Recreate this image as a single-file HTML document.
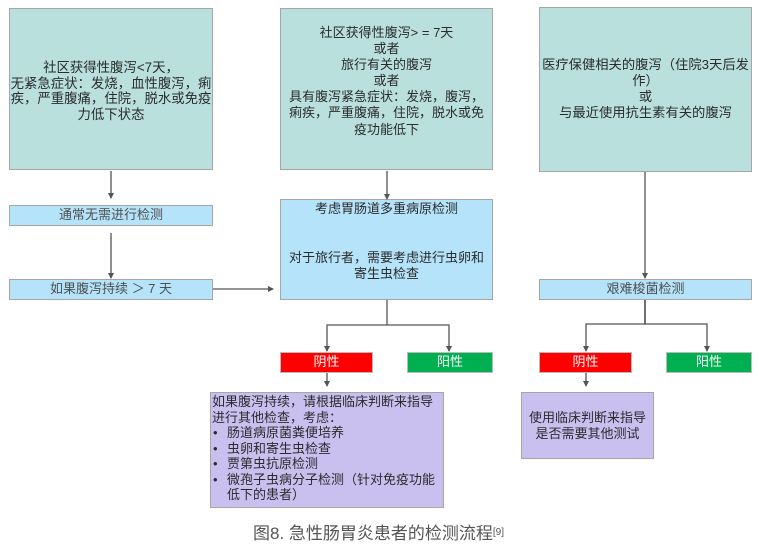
<!DOCTYPE html>
<html><head><meta charset="utf-8">
<style>
html,body{margin:0;padding:0;background:#fff;}
body{width:759px;height:553px;position:relative;overflow:hidden;font-family:"Liberation Sans","Noto Sans CJK SC",sans-serif;}
.b{position:absolute;box-sizing:border-box;border:1px solid #a6a6a6;}
.teal{background:#b9e0dd;}
.blue{background:#b4e3fa;}
.red{background:#ff0000;}
.green{background:#00b050;}
.pur{background:#cac0f0;}
.t{position:absolute;text-align:center;color:#2b2b2b;font-size:13px;white-space:nowrap;}
.s{position:absolute;text-align:center;color:#505050;font-size:13px;line-height:20px;white-space:nowrap;}
.w{position:absolute;text-align:center;color:#fff;font-size:13px;line-height:20px;}
svg{position:absolute;left:0;top:0;}
</style></head><body>

<!-- top boxes -->
<div class="b teal" style="left:9px;top:8px;width:204px;height:162px;"></div>
<div class="t" style="left:9px;width:204px;top:60px;line-height:15.7px;font-size:13.4px;">社区获得性腹泻&lt;7天，<br>无紧急症状：发烧，血性腹泻，痢<br>疾，严重腹痛，住院，脱水或免疫<br>力低下状态</div>

<div class="b teal" style="left:280px;top:8px;width:213px;height:162px;"></div>
<div class="t" style="left:280px;width:213px;top:25px;line-height:16.1px;">社区获得性腹泻&gt; = 7天<br>或者<br>旅行有关的腹泻<br>或者<br>具有腹泻紧急症状：发烧，腹泻，<br>痢疾，严重腹痛，住院，脱水或免<br>疫功能低下</div>

<div class="b teal" style="left:539px;top:7px;width:213px;height:165px;"></div>
<div class="t" style="left:539px;width:213px;top:57px;line-height:16px;font-size:13.3px;">医疗保健相关的腹泻（住院3天后发<br>作）<br>或<br>与最近使用抗生素有关的腹泻</div>

<!-- blue boxes -->
<div class="b blue" style="left:9px;top:205px;width:204px;height:21px;"></div>
<div class="s" style="left:9px;width:204px;top:205px;">通常无需进行检测</div>

<div class="b blue" style="left:9px;top:279px;width:204px;height:21px;"></div>
<div class="s" style="left:9px;width:204px;top:279px;">如果腹泻持续 ＞ 7 天</div>

<div class="b blue" style="left:280px;top:199px;width:213px;height:101px;"></div>
<div class="t" style="left:280px;width:213px;top:201px;line-height:16px;">考虑胃肠道多重病原检测</div>
<div class="t" style="left:280px;width:213px;top:250px;line-height:16px;">对于旅行者，需要考虑进行虫卵和<br>寄生虫检查</div>

<div class="b blue" style="left:539px;top:279px;width:213px;height:21px;"></div>
<div class="s" style="left:539px;width:213px;top:279px;">艰难梭菌检测</div>

<!-- result boxes -->
<div class="b red" style="left:280px;top:352px;width:93px;height:21px;border-color:#bbb;"></div>
<div class="w" style="left:280px;width:93px;top:352px;">阴性</div>
<div class="b green" style="left:407px;top:352px;width:86px;height:21px;border-color:#bbb;"></div>
<div class="w" style="left:407px;width:86px;top:352px;">阳性</div>

<div class="b red" style="left:539px;top:352px;width:93px;height:21px;border-color:#bbb;"></div>
<div class="w" style="left:539px;width:93px;top:352px;">阴性</div>
<div class="b green" style="left:666px;top:352px;width:86px;height:21px;border-color:#bbb;"></div>
<div class="w" style="left:666px;width:86px;top:352px;">阳性</div>

<!-- purple boxes -->
<div class="b pur" style="left:210px;top:392px;width:234px;height:116px;"></div>
<div class="t" style="left:212px;top:394px;text-align:left;line-height:15.55px;">如果腹泻持续，请根据临床判断来指导<br>进行其他检查，考虑：</div>
<div class="t" style="left:213px;top:425px;text-align:left;line-height:15.55px;">•<br>•<br>•<br>•</div>
<div class="t" style="left:227px;top:425px;text-align:left;line-height:15.55px;">肠道病原菌粪便培养<br>虫卵和寄生虫检查<br>贾第虫抗原检测<br>微孢子虫病分子检测（针对免疫功能<br>低下的患者）</div>

<div class="b pur" style="left:521px;top:392px;width:133px;height:67px;"></div>
<div class="t" style="left:521px;width:133px;top:410px;line-height:16px;">使用临床判断来指导<br>是否需要其他测试</div>

<!-- caption -->
<div style="position:absolute;left:253px;top:523px;font-size:17px;line-height:22px;color:#555;white-space:nowrap;">图8. 急性肠胃炎患者的检测流程<sup style="font-size:10px;vertical-align:top;position:relative;top:-1px;">[9]</sup></div>

<svg width="759" height="553" viewBox="0 0 759 553">
<defs>
<marker id="a" markerWidth="6" markerHeight="6" refX="5" refY="3" orient="auto" markerUnits="userSpaceOnUse">
<path d="M0,0 L6,3 L0,6 z" fill="#555"/>
</marker>
</defs>
<g stroke="#555" stroke-width="1.3" fill="none">
<line x1="111" y1="171" x2="111" y2="198" marker-end="url(#a)"/>
<line x1="111" y1="233" x2="111" y2="278" marker-end="url(#a)"/>
<line x1="213" y1="289" x2="273" y2="289" marker-end="url(#a)"/>
<line x1="387" y1="171" x2="387" y2="199" marker-end="url(#a)"/>
<line x1="645" y1="172" x2="645" y2="278" marker-end="url(#a)"/>
<line x1="387" y1="300" x2="387" y2="325"/>
<polyline points="327,351 327,325 449,325 449,351"/>
<line x1="327" y1="373" x2="327" y2="386" marker-end="url(#a)"/>
<line x1="645" y1="300" x2="645" y2="324" stroke="#222"/>
<polyline points="586,351 586,324 707,324 707,351"/>
<line x1="586" y1="373" x2="586" y2="386" marker-end="url(#a)"/>
</g>
<g fill="#555">
<path d="M324,346 L327,352 L330,346 z"/>
<path d="M446,346 L449,352 L452,346 z"/>
<path d="M583,346 L586,352 L589,346 z"/>
<path d="M704,346 L707,352 L710,346 z"/>
</g>
</svg>
</body></html>
